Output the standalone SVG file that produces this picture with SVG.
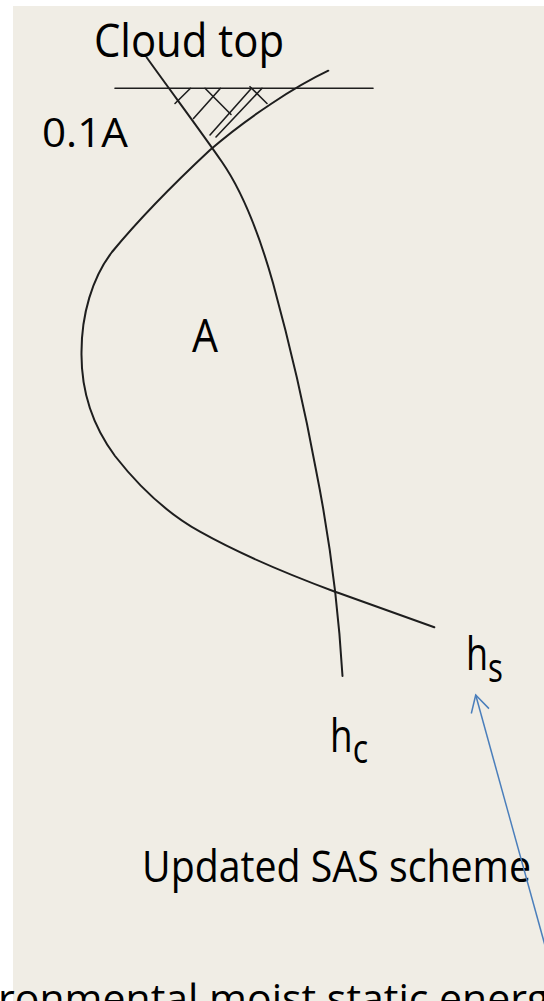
<svg xmlns="http://www.w3.org/2000/svg" width="544" height="1001" viewBox="0 0 544 1001">
<style>
.bg{fill:#f0ede5}
.ln{fill:none;stroke:#1e1e1e;stroke-width:2;stroke-linecap:round}
.thin{fill:none;stroke:#1e1e1e;stroke-width:1.6;stroke-linecap:round}
.lbl{font-family:"Open Sans","Noto Sans","Liberation Sans",sans-serif;fill:#000}
.arrow{fill:none;stroke:#4a7ebb;stroke-width:1.5}
</style>
<defs>
<marker id="openArrow" viewBox="0 0 12 12" refX="11" refY="6" markerWidth="20" markerHeight="20" markerUnits="userSpaceOnUse" orient="auto">
<path d="M1,0.5 L11,6 L1,11.5" fill="none" stroke="#4a7ebb" stroke-width="0.9"/>
</marker>
</defs>
<rect width="544" height="1001" fill="#ffffff"/>
<rect class="bg" x="13" y="6" width="531" height="995"/>
<g id="cloud-top-line">
<line class="thin" x1="115" y1="88.3" x2="373" y2="88.3"/>
</g>
<g id="hatch">
<line class="thin" x1="175" y1="103.5" x2="190.5" y2="88.3"/>
<line class="thin" x1="193.5" y1="118.5" x2="220.5" y2="88.3"/>
<line class="thin" x1="210" y1="135" x2="251.5" y2="88.3"/>
<line class="thin" x1="216" y1="137" x2="262" y2="88.3"/>
<line class="thin" x1="205" y1="88.3" x2="231" y2="114.5"/>
<line class="thin" x1="250" y1="86.7" x2="267" y2="103.5"/>
</g>
<g id="curve-hc">
<path class="ln" d="M146.7,57.5 C175,97 200,130 222,162 C240,188 258,230 273,283 C290,345 305,410 316,470 C328,530 338,600 342.5,676"/>
</g>
<g id="curve-hs">
<path class="ln" d="M328.3,70.7 C296,86 248,117 210,150 C180,178 140,218 112,252 C92,278 81.5,315 81.5,352 C81,390 92,425 115,456 C140,488 168,514 200,531.7 C245,557 290,575 335,591.7 C370,604 405,617 434.3,627.3"/>
</g>
<g id="label-cloud-top">
<text class="lbl" x="94" y="57" font-size="45" textLength="190" lengthAdjust="spacingAndGlyphs">Cloud top</text>
</g>
<g id="label-01A">
<text class="lbl" x="42" y="147" font-size="41" textLength="86" lengthAdjust="spacingAndGlyphs">0.1A</text>
</g>
<g id="label-A">
<text class="lbl" x="192" y="351.5" font-size="46" textLength="26" lengthAdjust="spacingAndGlyphs">A</text>
</g>
<g id="label-hs">
<text class="lbl" x="466" y="670" font-size="46" textLength="37" lengthAdjust="spacingAndGlyphs">h<tspan font-size="40" dy="12">s</tspan></text>
</g>
<g id="label-hc">
<text class="lbl" x="330" y="752" font-size="46" textLength="38" lengthAdjust="spacingAndGlyphs">h<tspan font-size="40" dy="11">c</tspan></text>
</g>
<g id="label-updated">
<text class="lbl" x="142" y="882" font-size="43" textLength="389" lengthAdjust="spacingAndGlyphs">Updated SAS scheme</text>
</g>
<g id="label-bottom">
<text class="lbl" x="-2" y="1013" font-size="41">ronmental moist static energ</text>
</g>
<g id="connectors">
<line class="arrow" x1="549" y1="960" x2="475.7" y2="695" marker-end="url(#openArrow)"/>
</g>
</svg>
